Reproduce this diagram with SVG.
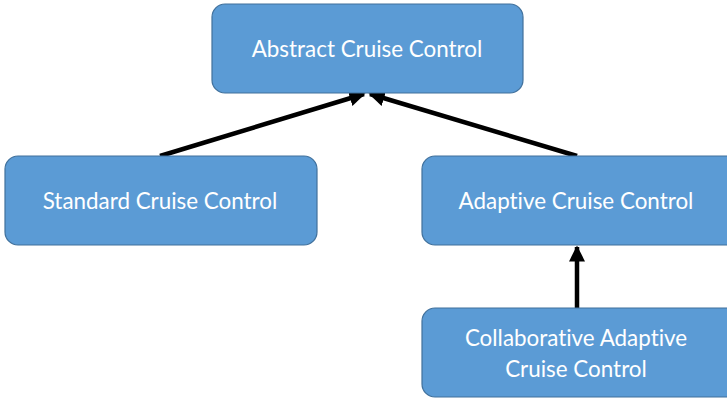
<svg xmlns="http://www.w3.org/2000/svg" width="727" height="400" viewBox="0 0 727 400">
  <style>
    .box { fill: #5B9BD5; stroke: #41719C; stroke-width: 1.2; }
    .label { fill: #FFFFFF; font-family: Lato, "Open Sans", "Liberation Sans", sans-serif; font-size: 22.4px; text-anchor: middle; dominant-baseline: central; font-variant-ligatures: none; }
    .link { stroke: #000000; stroke-width: 4.5; fill: none; marker-end: url(#head); }
  </style>
  <defs>
    <marker id="head" viewBox="0 0 10 10" refX="9" refY="5" markerWidth="3.6" markerHeight="3.6" orient="auto" markerUnits="strokeWidth">
      <path d="M0,0 L10,5 L0,10 z" fill="#000000"/>
    </marker>
  </defs>

  <g id="connectors">
    <line class="link" x1="160" y1="156" x2="364" y2="94"/>
    <line class="link" x1="577" y1="156" x2="370" y2="94"/>
    <line class="link" x1="577" y1="308" x2="577" y2="247"/>
  </g>

  <g id="abstract">
    <rect class="box" x="212" y="4" width="311" height="89" rx="13"/>
    <text class="label" x="367" y="48">Abstract Cruise Control</text>
  </g>

  <g id="standard">
    <rect class="box" x="5" y="156" width="312" height="89" rx="13"/>
    <text class="label" x="160" y="200">Standard Cruise Control</text>
  </g>

  <g id="adaptive">
    <rect class="box" x="422" y="156" width="318" height="89" rx="13"/>
    <text class="label" x="576" y="200">Adaptive Cruise Control</text>
  </g>

  <g id="collaborative">
    <rect class="box" x="422" y="308" width="318" height="89" rx="13"/>
    <text class="label" x="576" y="337">Collaborative Adaptive</text>
    <text class="label" x="576" y="368">Cruise Control</text>
  </g>
</svg>
